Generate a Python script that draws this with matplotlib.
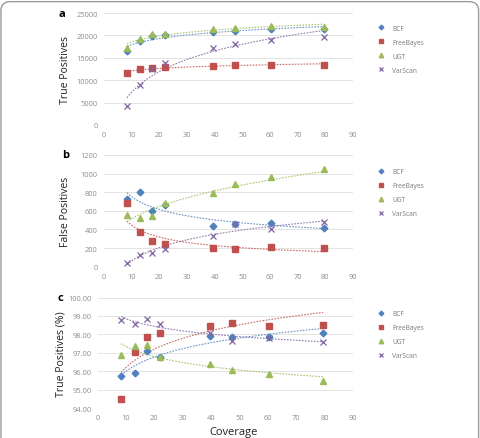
import numpy as np
import matplotlib
matplotlib.use("Agg")
import matplotlib.pyplot as plt
from matplotlib.patches import FancyBboxPatch

coverage = [8.3, 13, 17.5, 22, 39.5, 47.5, 60.5, 79.5]
tools = ["BCF", "FreeBayes", "UGT", "VarScan"]

tp_bcf = [16500, 18700, 19900, 20000, 20800, 21000, 21400, 21400]
tp_freebayes = [11600, 12400, 12800, 12900, 13200, 13300, 13400, 13500]
tp_ugt = [17300, 19300, 20300, 20400, 21400, 21600, 22000, 21900]
tp_varscan = [4300, 8900, 12400, 13800, 17200, 18100, 19000, 19600]

fp_bcf = [730, 800, 600, 665, 440, 460, 470, 420]
fp_freebayes = [680, 375, 280, 245, 205, 190, 210, 200]
fp_ugt = [555, 520, 540, 685, 790, 885, 960, 1045]
fp_varscan = [45, 130, 145, 195, 335, 455, 410, 485]

pct_bcf = [95.72, 95.90, 97.08, 96.80, 97.93, 97.85, 97.85, 98.08]
pct_freebayes = [94.48, 97.06, 97.86, 98.10, 98.45, 98.60, 98.45, 98.50]
pct_ugt = [96.90, 97.35, 97.42, 96.80, 96.42, 96.07, 95.83, 95.45]
pct_varscan = [98.80, 98.55, 98.83, 98.57, 98.05, 97.62, 97.82, 97.60]

COLORS = ["#4f81bd", "#c0504d", "#9bbb59", "#8064a2"]
MARKERS = ["D", "s", "^", "x"]
MSIZES = [3.4, 4.8, 4.6, 4.6]
TICK_C = "#8c8c8c"
GRID_C = "#dedede"
FONT = "Open Sans"

panels = [
    dict(series=[tp_bcf, tp_freebayes, tp_ugt, tp_varscan], ylim=(0, 25000),
         yticks=np.arange(0, 25001, 5000), fmt="{:.0f}", ylabel="True Positives",
         letter="a", letter_x=62, label_x=65, fits=["log", "log", "log", "log"],
         rect=[0.216, 0.713, 0.518, 0.255], leg_y=0.955),
    dict(series=[fp_bcf, fp_freebayes, fp_ugt, fp_varscan], ylim=(0, 1200),
         yticks=np.arange(0, 1201, 200), fmt="{:.0f}", ylabel="False Positives",
         letter="b", letter_x=66, label_x=65, fits=["power", "power", "power", "log"],
         rect=[0.216, 0.390, 0.518, 0.255], leg_y=0.628),
    dict(series=[pct_bcf, pct_freebayes, pct_ugt, pct_varscan], ylim=(94, 100),
         yticks=np.arange(94, 100.01, 1), fmt="{:.2f}", ylabel="True Positives (%)",
         letter="c", letter_x=60, label_x=61, fits=["log", "log", "log", "log"],
         rect=[0.203, 0.068, 0.531, 0.252], leg_y=0.305),
]

fig = plt.figure(figsize=(4.81, 4.39), dpi=100, facecolor="white")

# outer rounded frame (bottom edge runs off the page)
frame = FancyBboxPatch((0.002, -0.05), 0.993, 1.044, boxstyle="round,pad=0,rounding_size=0.02",
                       transform=fig.transFigure, fill=False, ec="#9a9a9a", lw=1.0)
fig.patches.append(frame)

x = np.array(coverage)
xs = np.linspace(x.min(), x.max(), 200)

for p in panels:
    ax = fig.add_axes(p["rect"])
    for name, vals, c, m, ms, fit in zip(tools, p["series"], COLORS, MARKERS, MSIZES, p["fits"]):
        y = np.array(vals, dtype=float)
        if m == "x":
            ax.plot(x, y, ls="none", marker=m, ms=ms, mec=c, mew=0.9, label=name, zorder=3)
        else:
            ax.plot(x, y, ls="none", marker=m, ms=ms, mfc=c, mec=c, label=name, zorder=3)
        # Excel-style trendlines
        if fit == "log":
            b, a = np.polyfit(np.log(x), y, 1)
            ys = a + b * np.log(xs)
        else:
            b, a = np.polyfit(np.log(x), np.log(y), 1)
            ys = np.exp(a) * xs ** b
        ax.plot(xs, ys, ls=(0, (1.5, 1.2)), lw=0.8, color=c, alpha=0.85, zorder=2)

    ax.set_xlim(0, 90)
    ax.set_ylim(*p["ylim"])
    ax.set_xticks(np.arange(0, 91, 10))
    ax.set_yticks(p["yticks"])
    ax.set_yticklabels([p["fmt"].format(v) for v in p["yticks"]])
    ax.tick_params(length=0, labelsize=5.4, colors=TICK_C, pad=4.5)
    for lab in ax.get_xticklabels() + ax.get_yticklabels():
        lab.set_fontfamily(FONT)
    for s in ax.spines.values():
        s.set_visible(False)
    ax.grid(axis="y", color=GRID_C, lw=0.6)
    ax.set_axisbelow(True)

    r = p["rect"]
    fig.text(p["label_x"] / 481, r[1] + r[3] / 2, p["ylabel"], rotation=90, fontsize=7.6,
             family=FONT, color="#222222", ha="center", va="center")
    fig.text(p["letter_x"] / 481, r[1] + r[3], p["letter"],
             fontsize=8, fontweight="bold", family=FONT, ha="center", va="center")

    leg = ax.legend(loc="upper left", bbox_to_anchor=(0.772, p["leg_y"]),
                    bbox_transform=fig.transFigure, frameon=False,
                    prop={"family": FONT, "size": 4.8}, labelspacing=1.05,
                    handletextpad=1.2, handlelength=1.0, markerscale=0.7)
    for t in leg.get_texts():
        t.set_color("#7a7a7a")

fig.text(234 / 481, 1 - 433 / 439, "Coverage", fontsize=8, family=FONT,
         ha="center", va="center", color="#222222")

fig.savefig("out.png", dpi=100, facecolor="white")
